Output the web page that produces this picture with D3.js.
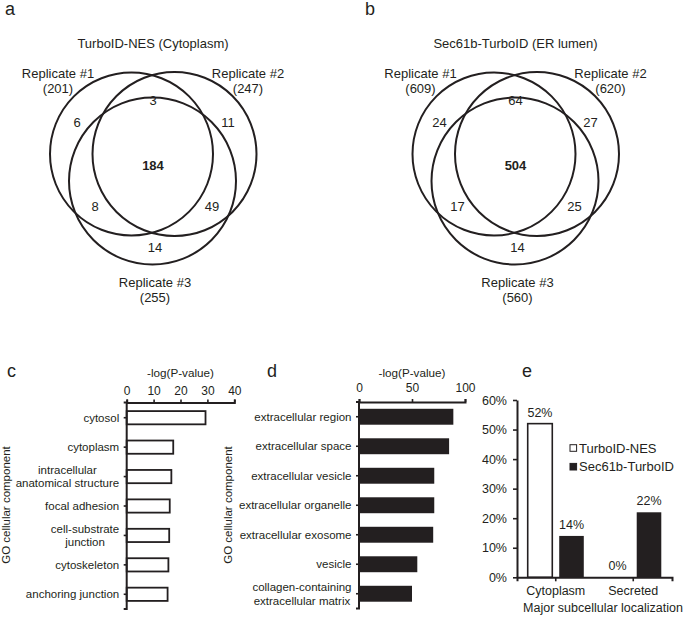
<!DOCTYPE html>
<html><head><meta charset="utf-8">
<script src="https://cdn.jsdelivr.net/npm/d3@7"></script>
<style>
body{margin:0;background:#fff}
text{font-family:"Liberation Sans",Arial,Helvetica,sans-serif;fill:#231f20}
</style>
</head><body><svg id="chart" width="685" height="617"></svg>
<script>
// ---------------- data ----------------
const vennTitles = ["TurboID-NES (Cytoplasm)", "Sec61b-TurboID (ER lumen)"];
const replicateNames = ["Replicate #1", "Replicate #2", "Replicate #3"];
const replicateTotalsA = [201, 247, 255];
const replicateTotalsB = [609, 620, 560];
const regionKeys = ["1", "2", "12", "123", "13", "23", "3"];
const regionCountsA = [6, 11, 3, 184, 8, 49, 14];
const regionCountsB = [24, 27, 64, 504, 17, 25, 14];

const goCategoriesC = ["cytosol", "cytoplasm", "intracellular\nanatomical structure", "focal adhesion", "cell-substrate\njunction", "cytoskeleton", "anchoring junction"];
const goValuesC = [29.3, 17.3, 16.6, 16.0, 15.8, 15.5, 15.2];
const goTicksC = [0, 10, 20, 30, 40];

const goCategoriesD = ["extracellular region", "extracellular space", "extracellular vesicle", "extracellular organelle", "extracellular exosome", "vesicle", "collagen-containing\nextracellular matrix"];
const goValuesD = [89, 85, 71, 71, 70, 55, 50];
const goTicksD = [0, 50, 100];

const locCategories = ["Cytoplasm", "Secreted"];
const locSeries = ["TurboID-NES", "Sec61b-TurboID"];
const locValuesNES = [0.52, 0.00];
const locValuesSec = [0.14, 0.22];
const locTicks = [0, 0.1, 0.2, 0.3, 0.4, 0.5, 0.6];

// ---------------- drawing ----------------
const ink = "#231f20";
const svg = d3.select("#chart");
svg.append("rect").attr("width", 685).attr("height", 617).attr("fill", "#fff");

function panelLetter(t, x, y) {
  svg.append("text").attr("x", x).attr("y", y).attr("font-size", 18).text(t);
}

// Venn layout (local pixel geometry of the three circles and labels)
const vennLayout = {
  circles: [[131.5, 154, 81.5], [174.5, 154, 82], [152.5, 181, 83.5]],
  regionPos: {"1": [77, 122], "2": [228, 122], "12": [153, 100], "123": [153, 165], "13": [95, 206], "23": [212, 206], "3": [155, 247]},
  setLabelPos: [[58, 77.5], [248, 77.5], [155, 286.5]],
  titlePos: [153, 47.5]
};

function drawVenn(offsetX, title, totals, counts) {
  const g = svg.append("g").attr("transform", `translate(${offsetX},0)`);
  g.append("text").attr("x", vennLayout.titlePos[0]).attr("y", vennLayout.titlePos[1])
    .attr("text-anchor", "middle").attr("font-size", 13).text(title);
  g.selectAll("circle").data(vennLayout.circles).join("circle")
    .attr("cx", d => d[0]).attr("cy", d => d[1]).attr("r", d => d[2])
    .attr("fill", "none").attr("stroke", ink).attr("stroke-width", 2);
  replicateNames.forEach((n, i) => {
    const p = vennLayout.setLabelPos[i];
    const t = g.append("text").attr("text-anchor", "middle").attr("font-size", 13);
    t.append("tspan").attr("x", p[0]).attr("y", p[1]).text(n);
    t.append("tspan").attr("x", p[0]).attr("y", p[1] + 15.5).text(`(${totals[i]})`);
  });
  regionKeys.forEach((k, i) => {
    const p = vennLayout.regionPos[k];
    g.append("text").attr("x", p[0]).attr("y", p[1] + 4.6).attr("text-anchor", "middle")
      .attr("font-size", 13).attr("font-weight", k === "123" ? "bold" : "normal")
      .text(counts[i]);
  });
}

panelLetter("a", 5, 15);
panelLetter("b", 365, 15);
drawVenn(0, vennTitles[0], replicateTotalsA, regionCountsA);
drawVenn(362.5, vennTitles[1], replicateTotalsB, regionCountsB);

function catLabel(g, label, rightX, cy, size) {
  const lines = label.split("\n");
  const lh = size * 1.16;
  const t = g.append("text").attr("font-size", size).attr("text-anchor", "middle");
  lines.forEach((ln, i) => t.append("tspan").attr("x", 0)
    .attr("y", cy + (i - (lines.length - 1) / 2) * lh + size * 0.36).text(ln));
  const w = t.node().getBBox().width;
  t.attr("transform", `translate(${rightX - w / 2},0)`);
}

function styleAxis(sel, fs) {
  sel.select(".domain").attr("stroke", ink).attr("stroke-width", 2);
  sel.selectAll(".tick line").attr("stroke", ink).attr("stroke-width", 1.6);
  sel.selectAll(".tick text").attr("font-size", fs).attr("fill", ink)
    .attr("font-family", '"Liberation Sans",Arial,Helvetica,sans-serif');
}

function drawGO(o) {
  const x = d3.scaleLinear().domain([o.ticks[0], o.ticks[o.ticks.length - 1]]).range([o.x0, o.x1]);
  const y = d3.scaleBand().domain(o.categories).range([o.yTop, o.yBottom])
    .paddingInner(o.pad).paddingOuter(o.pad / 2);
  const g = svg.append("g");
  g.selectAll("rect.bar").data(o.values).join("rect").attr("class", "bar")
    .attr("x", x(0)).attr("y", (d, i) => y(o.categories[i]))
    .attr("width", d => x(d) - x(0)).attr("height", y.bandwidth())
    .attr("fill", o.fill).attr("stroke", o.stroke).attr("stroke-width", o.strokeW);
  const ax = g.append("g").attr("transform", `translate(0,${o.axisY})`)
    .call(d3.axisTop(x).tickValues(o.ticks).tickSize(3).tickSizeOuter(3).tickPadding(o.tickPad));
  styleAxis(ax, 12);
  const ay = g.append("g").attr("transform", `translate(${o.x0},0)`)
    .call(d3.axisLeft(y).tickSize(3).tickSizeOuter(3).tickFormat(""));
  styleAxis(ay, 11.5);
  ay.select(".domain").attr("d", `M-3,${o.axisY}H0V${o.yBottom}H-3`);
  o.categories.forEach(c => catLabel(g, c, o.x0 - 7.5, y(c) + y.bandwidth() / 2, 11.5));
  g.append("text").attr("x", (o.x0 + o.x1) / 2).attr("y", 377).attr("text-anchor", "middle")
    .attr("font-size", 11.7).text("-log(P-value)");
  g.append("text").attr("transform", `translate(${o.yTitleX},505) rotate(-90)`)
    .attr("text-anchor", "middle").attr("font-size", 11.5).text("GO cellular component");
}

panelLetter("c", 7, 377);
drawGO({categories: goCategoriesC, values: goValuesC, ticks: goTicksC,
  x0: 126.7, x1: 234.3, yTop: 403, yBottom: 609, axisY: 402.5, pad: 0.55,
  fill: "#fff", stroke: ink, strokeW: 1.8, tickPad: 5, yTitleX: 10});

panelLetter("d", 267, 377);
drawGO({categories: goCategoriesD, values: goValuesD, ticks: goTicksD,
  x0: 359, x1: 465, yTop: 402, yBottom: 608.5, axisY: 402, pad: 0.46,
  fill: ink, stroke: "none", strokeW: 0, tickPad: 7, yTitleX: 232});

// panel e
panelLetter("e", 522, 377);
(function () {
  const g = svg.append("g");
  const x = d3.scaleBand().domain(locCategories).range([517, 672]);
  const xs = d3.scaleBand().domain(locSeries).range([0, x.bandwidth()]).paddingInner(0.22).paddingOuter(0.34);
  const y = d3.scaleLinear().domain([0, 0.6]).range([577.3, 400]);
  const fmt = d3.format(".0%");
  const seriesVals = [locValuesNES, locValuesSec];
  const fills = ["#fff", ink];
  locSeries.forEach((s, si) => {
    locCategories.forEach((c, ci) => {
      const v = seriesVals[si][ci];
      const bx = x(c) + xs(s);
      if (v > 0) {
        g.append("rect").attr("x", bx).attr("y", y(v)).attr("width", xs.bandwidth())
          .attr("height", y(0) - y(v)).attr("fill", fills[si])
          .attr("stroke", ink).attr("stroke-width", si === 0 ? 1.6 : 0);
      }
      g.append("text").attr("x", bx + xs.bandwidth() / 2).attr("y", y(v) - 7)
        .attr("text-anchor", "middle").attr("font-size", 12.5).text(fmt(v));
    });
  });
  const ay = g.append("g").attr("transform", "translate(517,0)")
    .call(d3.axisLeft(y).tickValues(locTicks).tickFormat(fmt).tickSize(4).tickSizeOuter(0).tickPadding(6));
  styleAxis(ay, 12.5);
  const ax = g.append("g").attr("transform", `translate(0,${y(0)})`)
    .call(d3.axisBottom(x).tickSize(4).tickSizeOuter(4).tickPadding(4.8));
  styleAxis(ax, 12.5);
  g.append("text").attr("x", 603).attr("y", 611.5).attr("text-anchor", "middle")
    .attr("font-size", 12.5).text("Major subcellular localization");
  // legend
  const leg = g.append("g");
  locSeries.forEach((s, i) => {
    const cy = 448 + i * 18.7;
    leg.append("rect").attr("x", 570).attr("y", cy - 3.3).attr("width", 6.6).attr("height", 6.6)
      .attr("fill", fills[i]).attr("stroke", ink).attr("stroke-width", 1);
    leg.append("text").attr("x", 579).attr("y", cy + 4.6).attr("font-size", 13).text(s);
  });
})();
</script>
</body></html>
